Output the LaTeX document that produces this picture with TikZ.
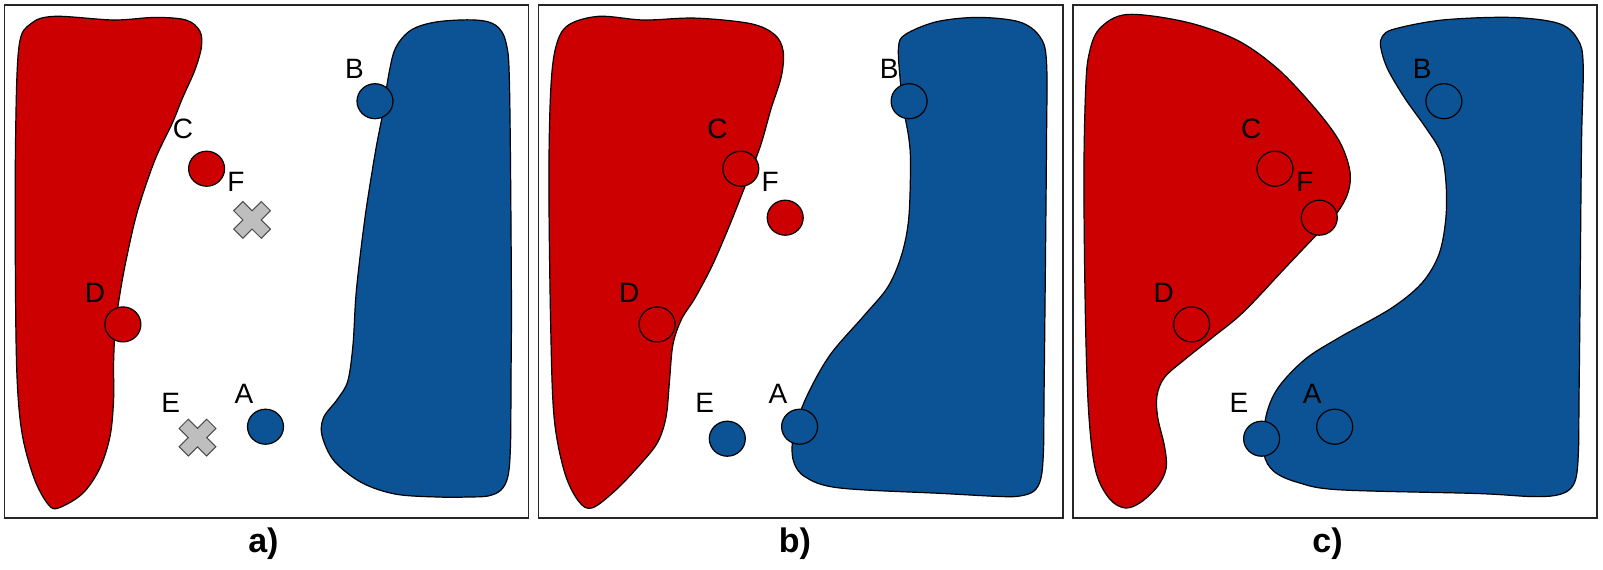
\documentclass[tikz,border=0pt]{standalone}
\usepackage{fontspec}
\setmainfont{Liberation Sans}
\usetikzlibrary{shapes.geometric}
\definecolor{clsred}{RGB}{204,0,0}
\definecolor{clsblue}{RGB}{11,83,148}
\definecolor{xgray}{RGB}{190,190,190}

\begin{document}
\begin{tikzpicture}[
  x=0.5pt, y=-0.5pt,
  frame/.style  = {draw=black!85, line width=0.6pt},
  redreg/.style = {draw, fill=clsred, line width=0.6pt},
  bluereg/.style= {draw, fill=clsblue, line width=0.6pt},
  pt/.style     = {draw, ellipse, minimum width=18pt, minimum height=17.5pt,
                   inner sep=0pt, line width=0.6pt},
  redpt/.style  = {pt, fill=clsred},
  bluept/.style = {pt, fill=clsblue},
  lbl/.style    = {inner sep=0pt, font=\fontsize{14}{16}\selectfont},
  capt/.style   = {inner sep=0pt, font=\fontsize{17}{20}\selectfont\bfseries},
  xmark/.pic    = {\filldraw[fill=xgray, draw=black!70, line width=0.5pt, rotate=45]
                   (6.5,19.5) -- (6.5,6.5) -- (19.5,6.5) -- (19.5,-6.5) -- (6.5,-6.5)
                   -- (6.5,-19.5) -- (-6.5,-19.5) -- (-6.5,-6.5) -- (-19.5,-6.5)
                   -- (-19.5,6.5) -- (-6.5,6.5) -- (-6.5,19.5) -- cycle;},
]
  \useasboundingbox (0,0) rectangle (1603,569);

  % frames
  \draw[frame] (4.5,5) rectangle (528.5,518);
  \draw[frame] (538.5,5) rectangle (1063,518);
  \draw[frame] (1073,5) rectangle (1597,518);

  % a) regions
  \draw[redreg] plot[smooth cycle, tension=0.55] coordinates {
    (18.9,47.2) (31,23.6) (55.1,16.3) (113.6,20) (155,17.4) (186,20)
    (199.7,30.8) (201.4,47.2) (194.6,70.8) (182.5,98) (172.2,123.4)
    (155,159.7) (137.7,210.4) (127.4,254) (120.5,290.3) (115.4,326.6)
    (113.6,362.8) (113.6,399.1) (110.2,435.4) (99.9,468.1) (82.6,493.5)
    (58.5,508) (48.2,504.4) (34.4,479) (22.4,435.4) (17.2,381)
    (15.5,290.3) (15.5,145.1)};
  \draw[bluereg] plot[smooth cycle, tension=0.55] coordinates {
    (389.1,72.6) (396,47.2) (411.5,29.8) (437.3,21.8) (475.2,20)
    (495.9,25.4) (506.2,43.5) (509.6,90.7) (511.4,290.3) (511,380)
    (510.5,445) (508,476) (501,490) (488,496) (468,497) (440.8,497.1)
    (396,494.2) (361.6,482.6) (334,460.8) (322,435.4) (323.7,417.3)
    (337.5,399.1) (347.8,381) (353,344.7) (356.4,290.3) (365,217.7)
    (375.3,152.4) (382.2,116.1)};

  % b) regions
  \draw[redreg] plot[smooth cycle, tension=0.55] coordinates {
    (555.8,47.2) (567.9,25.4) (598.9,16.3) (643.6,20) (695.3,18.1)
    (750.4,23.6) (774.5,34.5) (783.1,50.8) (781.4,76.2) (771,108.9)
    (760.7,145.1) (746.9,181.4) (729.7,225) (712.5,264.9) (695.3,297.5)
    (681.5,319.3) (672.9,344.7) (669.5,381) (666,417.3) (657.4,442.7)
    (640.2,464.4) (616.1,489.8) (592,508) (578.2,500.7) (564.4,471.7)
    (554.1,417.3) (550.7,326.6) (548.9,181.4) (550.7,90.7)};
  \draw[bluereg] plot[smooth cycle, tension=0.55] coordinates {
    (898.5,47.2) (905.3,34.5) (936.3,21.8) (977.7,17.4) (1019,21.8)
    (1039.6,36.3) (1046.5,61.7) (1046.5,145.1) (1044.8,326.6)
    (1044,400) (1043.5,450) (1041,478) (1034,491) (1020,496)
    (1000,496.5) (943.2,493.5) (839.9,488) (805.5,477.1) (793.4,460.8)
    (793.4,435.4) (805.5,399.1) (829.6,355.6) (864,315.7) (888.1,286.6)
    (901.9,254) (908.8,217.7) (910.5,163.3) (908.8,137.9) (903.6,108.9)
    (900.2,79.8)};

  % c) regions
  \draw[redreg] plot[smooth cycle, tension=0.55] coordinates {
    (1089,54.4) (1099.3,29) (1126.8,14.5) (1185.1,21.8) (1236.6,39.9)
    (1277.8,68.9) (1315.5,108.9) (1339.5,141.5) (1349.8,170.5)
    (1348.1,192.3) (1336.1,214.1) (1312.1,239.5) (1284.6,268.5)
    (1243.5,312) (1212.6,337.4) (1185.1,359.2) (1164.5,377.4)
    (1157,395.5) (1157.7,417.3) (1164.5,446.3) (1166.2,468.1)
    (1157.7,486.2) (1140.5,502.5) (1125.1,508) (1109.6,498.9)
    (1095.9,471.7) (1089,417.3) (1085.6,326.6) (1083.9,181.4) (1085.6,90.7)};
  \draw[bluereg] plot[smooth cycle, tension=0.55] coordinates {
    (1382.4,36.3) (1394.4,29) (1442.5,20) (1511.1,17.4) (1559.2,23.6)
    (1578,39.9) (1583.2,65.3) (1581.5,145.1) (1579.8,326.6) (1579,400)
    (1578.5,450) (1576,478) (1569,490) (1555,495.5) (1530,496.5)
    (1476.8,493.5) (1339.5,489.8) (1298.4,482.6) (1274.3,471.7)
    (1264,453.6) (1265.8,417.3) (1277.8,388.2) (1305.2,359.2)
    (1339.5,337.4) (1391,308.4) (1421.9,283) (1439.1,254) (1445.9,217.7)
    (1445.9,181.4) (1440.8,152.4) (1425.3,127) (1404.7,98) (1387.6,68.9)
    (1380.7,47.2)};

  % a) points
  \node[bluept] (aA) at (265.5,426.7) {};
  \node[bluept] (aB) at (375,101.2) {};
  \node[redpt]  (aC) at (206.6,168.7) {};
  \node[redpt]  (aD) at (122.9,324.4) {};
  \coordinate (aE) at (197.5,437.6);
  \coordinate (aF) at (252.1,219.9);
  \pic at (aE) {xmark};
  \pic at (aF) {xmark};
  \node[lbl] (laA) at (244,393.5) {A};
  \node[lbl] (laB) at (354.4,68.6) {B};
  \node[lbl] (laC) at (183,128.7) {C};
  \node[lbl] (laD) at (95,292.8)  {D};
  \node[lbl] (laE) at (170.6,402.7) {E};
  \node[lbl] (laF) at (236,181.5) {F};
  \node[capt] (capa) at (263.4,544) {a)};

  % b) points
  \node[bluept] (bA) at (799.6,426.7) {};
  \node[bluept] (bB) at (909.1,101.2) {};
  \node[redpt]  (bC) at (740.8,168.7) {};
  \node[redpt]  (bD) at (657.1,324.4) {};
  \node[bluept] (bE) at (727.3,438.7) {};
  \node[redpt]  (bF) at (785.2,217.7) {};
  \node[lbl] (lbA) at (778,393.5) {A};
  \node[lbl] (lbB) at (889.2,68.6) {B};
  \node[lbl] (lbC) at (717.5,128.7) {C};
  \node[lbl] (lbD) at (629.2,292.8) {D};
  \node[lbl] (lbE) at (704.6,402.7) {E};
  \node[lbl] (lbF) at (770.2,181.5) {F};
  \node[capt] (capb) at (795,544) {b)};

  % c) points
  \node[bluept] (cA) at (1334.7,426.7) {};
  \node[bluept] (cB) at (1443.9,101.2) {};
  \node[redpt]  (cC) at (1275,168.7) {};
  \node[redpt]  (cD) at (1191.6,324.4) {};
  \node[bluept] (cE) at (1261.6,438.7) {};
  \node[redpt]  (cF) at (1319.3,217.7) {};
  \node[lbl] (lcA) at (1312.1,393.5) {A};
  \node[lbl] (lcB) at (1422.2,68.6) {B};
  \node[lbl] (lcC) at (1251.3,128.7) {C};
  \node[lbl] (lcD) at (1163.8,292.8) {D};
  \node[lbl] (lcE) at (1239,402.7) {E};
  \node[lbl] (lcF) at (1304.9,181.5) {F};
  \node[capt] (capc) at (1327.5,544) {c)};
\end{tikzpicture}
\end{document}
